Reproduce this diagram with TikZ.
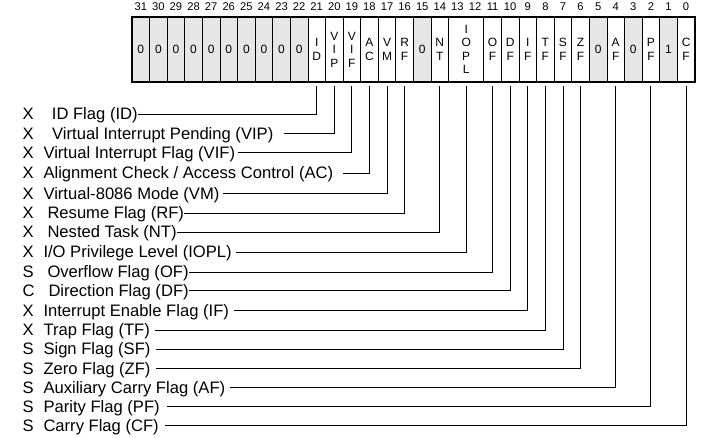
\documentclass[tikz,border=0pt]{standalone}
\usepackage{fontspec}
\setmainfont{Liberation Sans}
\usepackage{xcolor}
\usetikzlibrary{positioning}
\definecolor{rsvdgray}{HTML}{E6E6E6}
\tikzset{
    flagcell/.style={rectangle, draw=black, line width=0.8pt, inner sep=0pt, outer sep=0pt, minimum width=17.59pt, minimum height=65pt, align=center, font=\fontsize{12}{13.4}\selectfont},
    zerocell/.style={flagcell, fill=rsvdgray},
    widecell/.style={flagcell, minimum width=35.18pt},
    bitnum/.style={inner sep=0pt, font=\fontsize{11.2}{13}\selectfont},
    flagkind/.style={anchor=west, inner sep=0pt, text height=11.9pt, text depth=0pt, font=\fontsize{16.6}{19}\selectfont},
    flagname/.style={flagkind},
    leader/.style={line width=0.9pt, color=black},
    regframe/.style={line width=2pt, color=black}
}
\begin{document}
\begin{tikzpicture}[x=1pt, y=-1pt]
    \useasboundingbox (0,0) rectangle (706,438);

    \node (c31) [zerocell, anchor=north west] at (132,17) {0};
    \node (c30) [zerocell, right=0pt of c31] {0};
    \node (c29) [zerocell, right=0pt of c30] {0};
    \node (c28) [zerocell, right=0pt of c29] {0};
    \node (c27) [zerocell, right=0pt of c28] {0};
    \node (c26) [zerocell, right=0pt of c27] {0};
    \node (c25) [zerocell, right=0pt of c26] {0};
    \node (c24) [zerocell, right=0pt of c25] {0};
    \node (c23) [zerocell, right=0pt of c24] {0};
    \node (c22) [zerocell, right=0pt of c23] {0};
    \node (c21) [flagcell, right=0pt of c22] {I\\D};
    \node (c20) [flagcell, right=0pt of c21] {V\\I\\P};
    \node (c19) [flagcell, right=0pt of c20] {V\\I\\F};
    \node (c18) [flagcell, right=0pt of c19] {A\\C};
    \node (c17) [flagcell, right=0pt of c18] {V\\M};
    \node (c16) [flagcell, right=0pt of c17] {R\\F};
    \node (c15) [zerocell, right=0pt of c16] {0};
    \node (c14) [flagcell, right=0pt of c15] {N\\T};
    \node (cIOPL) [widecell, right=0pt of c14] {I\\O\\P\\L};
    \node (c11) [flagcell, right=0pt of cIOPL] {O\\F};
    \node (c10) [flagcell, right=0pt of c11] {D\\F};
    \node (c9) [flagcell, right=0pt of c10] {I\\F};
    \node (c8) [flagcell, right=0pt of c9] {T\\F};
    \node (c7) [flagcell, right=0pt of c8] {S\\F};
    \node (c6) [flagcell, right=0pt of c7] {Z\\F};
    \node (c5) [zerocell, right=0pt of c6] {0};
    \node (c4) [flagcell, right=0pt of c5] {A\\F};
    \node (c3) [zerocell, right=0pt of c4] {0};
    \node (c2) [flagcell, right=0pt of c3] {P\\F};
    \node (c1) [zerocell, right=0pt of c2] {1};
    \node (c0) [flagcell, right=0pt of c1] {C\\F};
    \draw [regframe] (c31.north west) rectangle (c0.south east);

    \node (n31) [bitnum, above=6pt of c31] {31};
    \node (n30) [bitnum, above=6pt of c30] {30};
    \node (n29) [bitnum, above=6pt of c29] {29};
    \node (n28) [bitnum, above=6pt of c28] {28};
    \node (n27) [bitnum, above=6pt of c27] {27};
    \node (n26) [bitnum, above=6pt of c26] {26};
    \node (n25) [bitnum, above=6pt of c25] {25};
    \node (n24) [bitnum, above=6pt of c24] {24};
    \node (n23) [bitnum, above=6pt of c23] {23};
    \node (n22) [bitnum, above=6pt of c22] {22};
    \node (n21) [bitnum, above=6pt of c21] {21};
    \node (n20) [bitnum, above=6pt of c20] {20};
    \node (n19) [bitnum, above=6pt of c19] {19};
    \node (n18) [bitnum, above=6pt of c18] {18};
    \node (n17) [bitnum, above=6pt of c17] {17};
    \node (n16) [bitnum, above=6pt of c16] {16};
    \node (n15) [bitnum, above=6pt of c15] {15};
    \node (n14) [bitnum, above=6pt of c14] {14};
    \node (n13) [bitnum, above=6pt of cIOPL.north, xshift=-8.8pt] {13};
    \node (n12) [bitnum, above=6pt of cIOPL.north, xshift=8.8pt] {12};
    \node (n11) [bitnum, above=6pt of c11] {11};
    \node (n10) [bitnum, above=6pt of c10] {10};
    \node (n9) [bitnum, above=6pt of c9] {9};
    \node (n8) [bitnum, above=6pt of c8] {8};
    \node (n7) [bitnum, above=6pt of c7] {7};
    \node (n6) [bitnum, above=6pt of c6] {6};
    \node (n5) [bitnum, above=6pt of c5] {5};
    \node (n4) [bitnum, above=6pt of c4] {4};
    \node (n3) [bitnum, above=6pt of c3] {3};
    \node (n2) [bitnum, above=6pt of c2] {2};
    \node (n1) [bitnum, above=6pt of c1] {1};
    \node (n0) [bitnum, above=6pt of c0] {0};

    \node (xID) [flagkind] at (22.5,114) {X};
    \node (lID) [flagname] at (51.7,114) {ID Flag (ID)};
    \node (xVIP) [flagkind] at (22.5,133.3) {X};
    \node (lVIP) [flagname] at (52,133.3) {Virtual Interrupt Pending (VIP)};
    \node (xVIF) [flagkind] at (22.5,152.5) {X};
    \node (lVIF) [flagname] at (43.3,152.5) {Virtual Interrupt Flag (VIF)};
    \node (xAC) [flagkind] at (22.5,173) {X};
    \node (lAC) [flagname] at (43.3,173) {Alignment Check / Access Control (AC)};
    \node (xVM) [flagkind] at (22.5,193.3) {X};
    \node (lVM) [flagname] at (43.3,193.3) {Virtual-8086 Mode (VM)};
    \node (xRF) [flagkind] at (22.5,213) {X};
    \node (lRF) [flagname] at (47.3,213) {Resume Flag (RF)};
    \node (xNT) [flagkind] at (22.5,232) {X};
    \node (lNT) [flagname] at (47.3,232) {Nested Task (NT)};
    \node (xIOPL) [flagkind] at (22.5,252) {X};
    \node (lIOPL) [flagname] at (43.3,252) {I/O Privilege Level (IOPL)};
    \node (xOF) [flagkind] at (22.5,272) {S};
    \node (lOF) [flagname] at (47.3,272) {Overflow Flag (OF)};
    \node (xDF) [flagkind] at (22.5,290.5) {C};
    \node (lDF) [flagname] at (48.3,290.5) {Direction Flag (DF)};
    \node (xIF) [flagkind] at (22.5,310.5) {X};
    \node (lIF) [flagname] at (43.3,310.5) {Interrupt Enable Flag (IF)};
    \node (xTF) [flagkind] at (22.5,330) {X};
    \node (lTF) [flagname] at (43.3,330) {Trap Flag (TF)};
    \node (xSF) [flagkind] at (22.5,349) {S};
    \node (lSF) [flagname] at (43.3,349) {Sign Flag (SF)};
    \node (xZF) [flagkind] at (22.5,368.3) {S};
    \node (lZF) [flagname] at (43.3,368.3) {Zero Flag (ZF)};
    \node (xAF) [flagkind] at (22.5,387.5) {S};
    \node (lAF) [flagname] at (43.3,387.5) {Auxiliary Carry Flag (AF)};
    \node (xPF) [flagkind] at (22.5,406.7) {S};
    \node (lPF) [flagname] at (43.3,406.7) {Parity Flag (PF)};
    \node (xCF) [flagkind] at (22.5,425.7) {S};
    \node (lCF) [flagname] at (43.3,425.7) {Carry Flag (CF)};

    \draw [leader] ([yshift=-4pt]c21.south) |- (lID.east);
    \draw [leader] ([yshift=-4pt]c20.south) |- ([xshift=10pt]lVIP.east);
    \draw [leader] ([yshift=-4pt]c19.south) |- ([xshift=3pt]lVIF.east);
    \draw [leader] ([yshift=-4pt]c18.south) |- ([xshift=10pt]lAC.east);
    \draw [leader] ([yshift=-4pt]c17.south) |- ([xshift=3pt]lVM.east);
    \draw [leader] ([yshift=-4pt]c16.south) |- (lRF.east);
    \draw [leader] ([yshift=-4pt]c14.south) |- (lNT.east);
    \draw [leader] ([yshift=-4pt]cIOPL.south) |- ([xshift=4pt]lIOPL.east);
    \draw [leader] ([yshift=-4pt]c11.south) |- (lOF.east);
    \draw [leader] ([yshift=-4pt]c10.south) |- (lDF.east);
    \draw [leader] ([yshift=-4pt]c9.south) |- ([xshift=5pt]lIF.east);
    \draw [leader] ([yshift=-4pt]c8.south) |- ([xshift=5pt]lTF.east);
    \draw [leader] ([yshift=-4pt]c7.south) |- ([xshift=5pt]lSF.east);
    \draw [leader] ([yshift=-4pt]c6.south) |- ([xshift=5pt]lZF.east);
    \draw [leader] ([yshift=-4pt]c4.south) |- ([xshift=5pt]lAF.east);
    \draw [leader] ([yshift=-4pt]c2.south) |- ([xshift=7pt]lPF.east);
    \draw [leader] ([yshift=-4pt]c0.south) |- ([xshift=6pt]lCF.east);
\end{tikzpicture}
\end{document}
